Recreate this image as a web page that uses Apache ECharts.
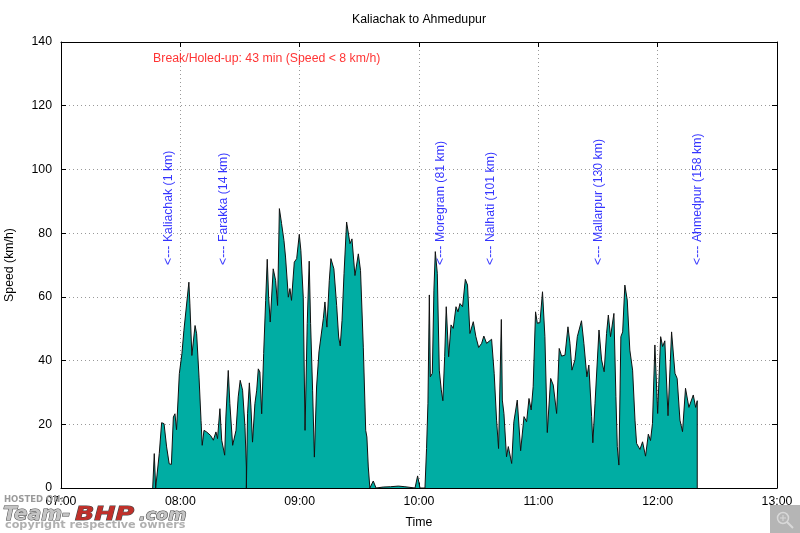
<!DOCTYPE html>
<html><head><meta charset="utf-8">
<style>html,body{margin:0;padding:0;background:#fff}#c{width:800px;height:533px}</style>
<script src="https://cdn.jsdelivr.net/npm/echarts@6/dist/echarts.min.js"></script>
</head><body><div id="c"></div>
<script>
// minutes since 07:00
const minutes = [46.1,46.9,47.6,48.4,49.4,50.6,51.8,53.1,54.4,55.5,56.5,57.3,58.1,59.5,60.8,61.8,62.7,64.3,64.8,65.8,66.5,67.4,68.2,69.4,70.4,71,71.9,73.2,75.2,76.6,77.9,78.7,79.9,80.8,82.3,82.9,84.1,84.9,86.3,88,89.1,90.1,91.3,92.5,93.2,93.2,93.5,93.8,94.7,95.5,96.3,97.5,98.4,99.2,100,100.9,101.9,102.9,103.7,104.4,105.2,106.7,107.9,108.9,109.8,110.9,112.1,112.9,114.3,115.1,115.9,117.3,118.5,119.8,120.6,121.8,122.7,123.8,124.8,125.5,126.5,127.4,128.5,129.7,130.7,131.9,132.7,133.7,134.9,135.7,137.2,138.6,139.6,140.4,141.3,142.3,143.6,145.3,146.3,147.8,149.5,150.6,152,153.2,153.8,154.5,155.3,157,158.4,162,165.7,169.6,172.9,178,179.3,180.5,183,183.8,184.5,185.2,185.7,186.7,187.5,188.2,189.2,190.2,191.2,192,192.9,193.7,194.9,196.1,197.2,198.6,199.6,200.6,201.9,203.3,204.4,205.6,207.3,208.6,210,211.5,212.6,214,216.5,217.8,219,220,221.4,221.9,222.7,224,224.9,226.6,227.7,229.4,231.1,232.8,234.1,235.3,236.4,237.4,238.6,239.5,240.8,242.1,243.3,244.5,246.2,247.5,249.2,250.5,251.7,253.4,254.9,255.9,256.9,258.4,259.6,261.7,262.9,264.4,265.4,266.8,267.4,268.5,270.5,271.8,273.1,274.3,275.2,276.3,278,279,279.7,280.5,281.5,282.4,283.5,284.7,286,287.4,288.6,289.4,290.2,291.1,292.4,293.9,295.3,296.4,297.4,298.6,300,301.5,302.5,303.6,305.2,307,308.7,309.8,311.2,312.5,314,315.7,317.9,319.1,319.9,319.9];
const speeds = [0,10.8,0,0,10.8,20.5,20.2,12.9,7.6,7.4,22.3,23.3,18.3,35.9,42.2,49.5,49.5,64.6,57.8,41.6,42.2,51,48.4,34.8,21.2,13.4,18.1,17.6,16.5,15,17.6,15.5,24.9,15,10.3,22.3,36.9,26.5,13.4,18.1,28.6,33.8,30.7,19.1,6.6,0,0,23.3,33,25.4,14.4,26.5,30.7,37.4,36.4,23.3,42.2,58.9,71.8,59.9,52.1,68.8,65.2,57.3,87.7,83,77.7,72.5,59.9,62.6,58.9,70.9,72,79.6,74.6,59.9,18.1,51.6,71.2,51.6,30.7,9.7,31.7,42.7,43.2,53.2,58.4,50.5,65.2,72,68.8,57.3,47.4,44.6,52.6,67.3,83.5,76.7,78.2,66.7,73.5,68.3,44.2,18.1,16,6.6,0,2.2,0,0.3,0.4,0.6,0.4,0,3.8,0,0,12.4,26.6,60.6,34.9,36,62.1,74.2,67.4,37,30.8,27.4,41.2,56.9,41.2,51.2,50.1,56.9,55.3,57.9,56.9,65.5,63.7,48.5,52.2,47.5,44.1,45.4,47.7,45.4,46.7,36,21.3,12.4,52.9,27.6,23.4,9.8,13,7.7,20.8,27.6,11.7,22.4,20.8,28.1,24.5,31.8,55.3,51.7,51.9,61.6,47.5,17.4,34.4,32.3,23.4,43.8,41.4,41.7,50.6,45.4,37,40.2,47.5,52.5,45.4,34.9,38.6,22.4,14.2,26.6,49.6,40.2,36.5,48.5,54.3,47.5,54.8,28.7,13,7.2,47.5,49,63.7,59,43.3,37,21.3,14,14.2,12.1,14.5,10,16.9,14.9,20.3,44.9,23.4,47.5,44.4,46.2,22.7,49,36,34.4,21.3,17.7,31.3,25.3,29.2,25.3,27.4,0];
const placeNames = ['<--- Kaliachak (1 km)','<--- Farakka (14 km)','<--- Moregram (81 km)','<--- Nalhati (101 km)','<--- Mallarpur (130 km)','<--- Ahmedpur (158 km)'];
const placeMinutes = [54,81.7,191,216,270.3,320];
const placeSpeed = 70;
const breakNote = 'Break/Holed-up: 43 min (Speed < 8 km/h)';
const noteAt = [46.3,134.7];
const xTicks = ['07:00','08:00','09:00','10:00','11:00','12:00','13:00'];

const font = '"Liberation Sans", Arial, sans-serif';
const fs = 12.3;
const tickFmt = v => xTicks[Math.round(v/60)] || '';
const grey = '#999999';
const chart = echarts.init(document.getElementById('c'), null, {renderer:'canvas'});
const hAxis = (pos, show) => ({type:'value',position:pos,min:0,max:360,interval:60,
  axisLine:{show:true,onZero:false,lineStyle:{color:'#000',width:1}},
  axisTick:{show:true,inside:true,length:5,lineStyle:{color:'#000'}},
  axisLabel:{show:show,formatter:tickFmt,color:'#000',fontFamily:font,fontSize:fs,margin:8,showMinLabel:true,showMaxLabel:true},
  splitLine:{show:show,lineStyle:{color:grey,type:[1,3],width:1}}});
const vAxis = (pos, show) => ({type:'value',position:pos,min:0,max:140,interval:20,
  axisLine:{show:true,onZero:false,lineStyle:{color:'#000',width:1}},
  axisTick:{show:true,inside:true,length:5,lineStyle:{color:'#000'}},
  axisLabel:{show:show,color:'#000',fontFamily:font,fontSize:fs,margin:9},
  splitLine:{show:show,lineStyle:{color:grey,type:[1,3],width:1}}});
chart.setOption({
  animation:false,
  backgroundColor:'#fff',
  title:{text:'Kaliachak to Ahmedupur',left:347,top:9,
    textStyle:{color:'#000',fontFamily:font,fontSize:fs,fontWeight:'normal'}},
  grid:{left:61,top:42,right:23,bottom:45,containLabel:false,outerBoundsMode:'none'},
  xAxis:[Object.assign(hAxis('bottom',true),{name:'Time',nameLocation:'middle',nameGap:29,nameTextStyle:{color:'#000',fontFamily:font,fontSize:fs}}),hAxis('top',false)],
  yAxis:[Object.assign(vAxis('left',true),{name:'Speed (km/h)',nameLocation:'middle',nameRotate:90,nameGap:45,nameTextStyle:{color:'#000',fontFamily:font,fontSize:fs}}),vAxis('right',false)],
  series:[
    {type:'line',data:minutes.map((m,i)=>[m,speeds[i]]),showSymbol:false,smooth:false,z:3,
      lineStyle:{color:'#111',width:1},areaStyle:{color:'#00ADA3',opacity:1}},
    {type:'scatter',symbolSize:0,z:5,data:placeMinutes.map((m,i)=>({value:[m,placeSpeed],name:placeNames[i]})),
      label:{show:true,position:[0,0],rotate:90,align:'left',verticalAlign:'middle',formatter:p=>p.name,
        color:'#0000ff',fontFamily:font,fontSize:fs}},
    {type:'scatter',symbolSize:0,z:5,data:[{value:noteAt,name:breakNote}],
      label:{show:true,position:[0,0],align:'left',verticalAlign:'middle',formatter:p=>p.name,
        color:'#ff0000',fontFamily:font,fontSize:fs}}
  ],
  graphic:[
    {type:'text',x:4,y:495,z:20,style:{text:'HOSTED ON:',fill:'#9a9a9a',font:'bold 8.5px "DejaVu Sans"'}},
    {type:'text',x:3,y:505,z:20,style:{text:'Team-',fill:'#c4c4c4',stroke:'#444',lineWidth:1,font:'italic bold 20px "DejaVu Sans"'}},
    {type:'text',x:75,y:505,scaleX:1.27,z:20,style:{text:'BHP',fill:'#c0302a',stroke:'#444',lineWidth:1,font:'italic bold 20px "DejaVu Sans"'}},
    {type:'text',x:139,y:508,scaleX:1.1,z:20,style:{text:'.com',fill:'#c4c4c4',stroke:'#444',lineWidth:1,font:'italic bold 16px "DejaVu Sans"'}},
    {type:'text',x:5,y:520,scaleX:1.17,z:20,style:{text:'copyright respective owners',fill:'#b0b0b0',font:'bold 9.6px "DejaVu Sans"'}},
    {type:'rect',shape:{x:770,y:505,width:30,height:28},z:20,style:{fill:'#b5b5b5'}},
    {type:'circle',shape:{cx:783,cy:518,r:5.5},z:21,style:{fill:'none',stroke:'#d8d8d8',lineWidth:1.5}},
    {type:'line',shape:{x1:787,y1:522,x2:793,y2:528},z:21,style:{stroke:'#d8d8d8',lineWidth:2}},
    {type:'line',shape:{x1:780,y1:518,x2:786,y2:518},z:21,style:{stroke:'#d8d8d8',lineWidth:1}},
    {type:'line',shape:{x1:783,y1:515,x2:783,y2:521},z:21,style:{stroke:'#d8d8d8',lineWidth:1}}
  ]
});
</script></body></html>
